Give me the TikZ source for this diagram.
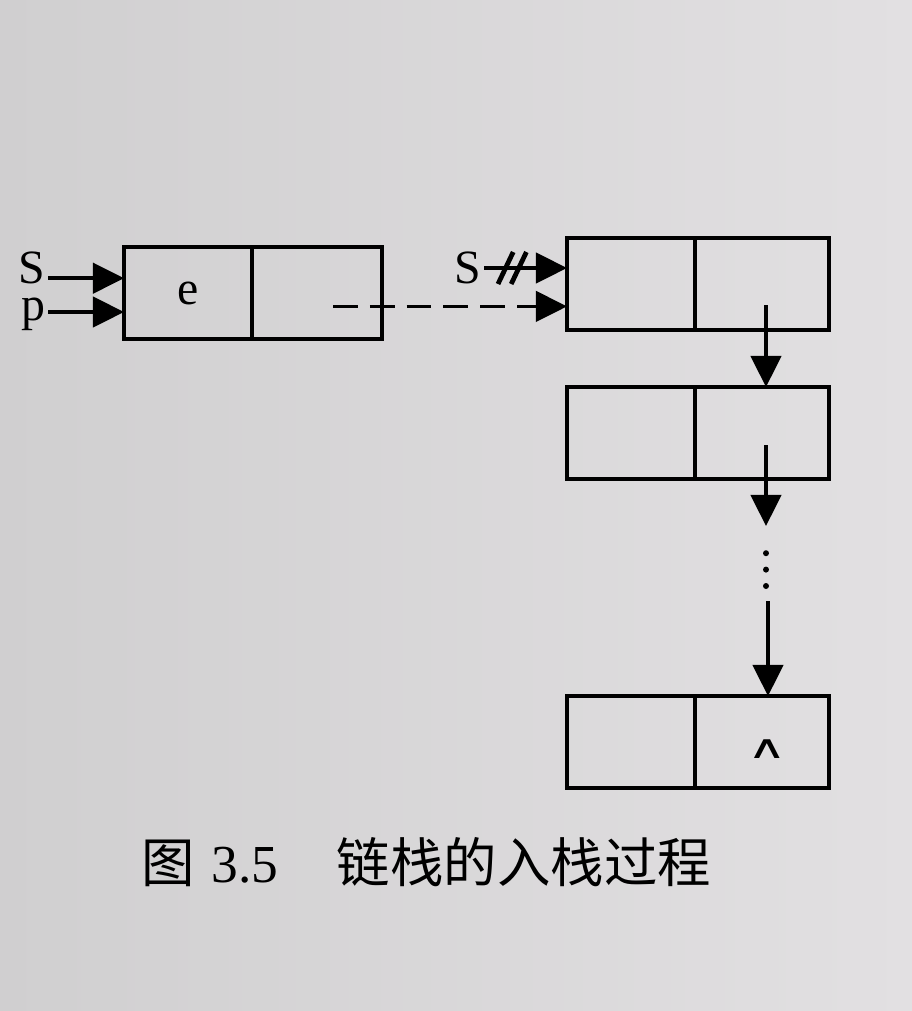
\documentclass[tikz,border=0pt]{standalone}
\usepackage{fontspec}
\setmainfont{Liberation Serif}
\newfontfamily\cjk{Noto Sans CJK SC}
\newfontfamily\symfont{DejaVu Sans}
\usetikzlibrary{arrows.meta,positioning,calc}
\definecolor{paper}{RGB}{226,224,226}
\definecolor{paperdark}{RGB}{208,207,208}

\begin{document}
\begin{tikzpicture}[node distance=1.4cm,
    every node/.style={font=\fontsize{34}{38}\selectfont},
    datacell/.style={rectangle, draw, line width=3.2pt, minimum width=3.2cm, minimum height=2.3cm, inner sep=0pt, outer sep=0pt},
    nextcell/.style={datacell, minimum width=3.35cm},
    lbl/.style={inner xsep=2pt, inner ysep=0pt},
    link/.style={-{Triangle[length=0.78cm,width=0.76cm]}, line width=2.6pt},
    cut/.style={line width=3.4pt}
]

% paper
\shade[left color=paperdark, right color=paper] (0,0) rectangle (22.8,-25.275);
\useasboundingbox (0,0) rectangle (22.8,-25.275);

% new node
\node[datacell, anchor=west] (new) at (3.1,-7.33) {e};
\node[nextcell, minimum width=3.25cm, right=0pt of new] (newnext) {};

% stack
\node[datacell, anchor=west] (top) at (14.175,-7.1) {};
\node[nextcell, right=0pt of top] (topnext) {};
\node[datacell, below=1.425cm of top] (mid) {};
\node[nextcell, right=0pt of mid] (midnext) {};
\node[datacell, below=5.425cm of mid] (bot) {};
\node[nextcell, right=0pt of bot] (botnext) {};
\node[inner sep=0pt, font=\fontsize{32}{32}\selectfont\symfont] (nullptr) at ($(botnext.center)+(0.12,-0.18)$) {\scalebox{1.2}[0.72]{∧}};

% pointers
\node[lbl, anchor=base east] (S) at (1.2,-7.075) {S};
\node[lbl, anchor=base east] (p) at (1.2,-8.02) {p};
\node[lbl, anchor=base east] (S2) at (12.1,-7.075) {S};

\coordinate (sfrom) at ($(S.base east)+(0,0.12)$);
\coordinate (pfrom) at ($(p.base east)+(0,0.22)$);
\coordinate (s2from) at ($(S2.base east)+(0,0.375)$);
\draw[link] (sfrom) -- (sfrom -| new.west);
\draw[link] (pfrom) -- (pfrom -| new.west);
\draw[link] (s2from) -- (s2from -| top.west);
\draw[cut] ($(s2from)+(0.35,-0.4)$) -- ++(0.38,0.8);
\draw[cut] ($(s2from)+(0.68,-0.4)$) -- ++(0.38,0.8);

\coordinate (dash0) at ($(newnext.center)+(0.4,-0.33)$);
\draw[link, dash pattern=on 0.62cm off 0.3cm] (dash0) -- (dash0 -| top.west);

% links down the stack
\coordinate (tail1) at ($(topnext.center)+(0.1,-0.525)$);
\draw[link] (tail1) -- (tail1 |- mid.north);
\coordinate (tail2) at ($(midnext.center)+(0.1,-0.3)$);
\coordinate (head2) at ($(tail2)+(0,-2.025)$);
\draw[link] (tail2) -- (head2);
\foreach \k in {0,1,2}
    \fill ($(head2)+(0,-0.68-0.41*\k)$) circle (0.075);
\coordinate (tail3) at ($(head2)+(0.05,-1.875)$);
\draw[link] (tail3) -- (tail3 |- bot.north);

% caption
\node (caption) at (10.66,-21.55) {\fontsize{38}{40}\selectfont{\cjk 图}\hspace{0.3em}3.5\hspace{1.1em}{\cjk 链栈的入栈过程}};

\end{tikzpicture}
\end{document}
